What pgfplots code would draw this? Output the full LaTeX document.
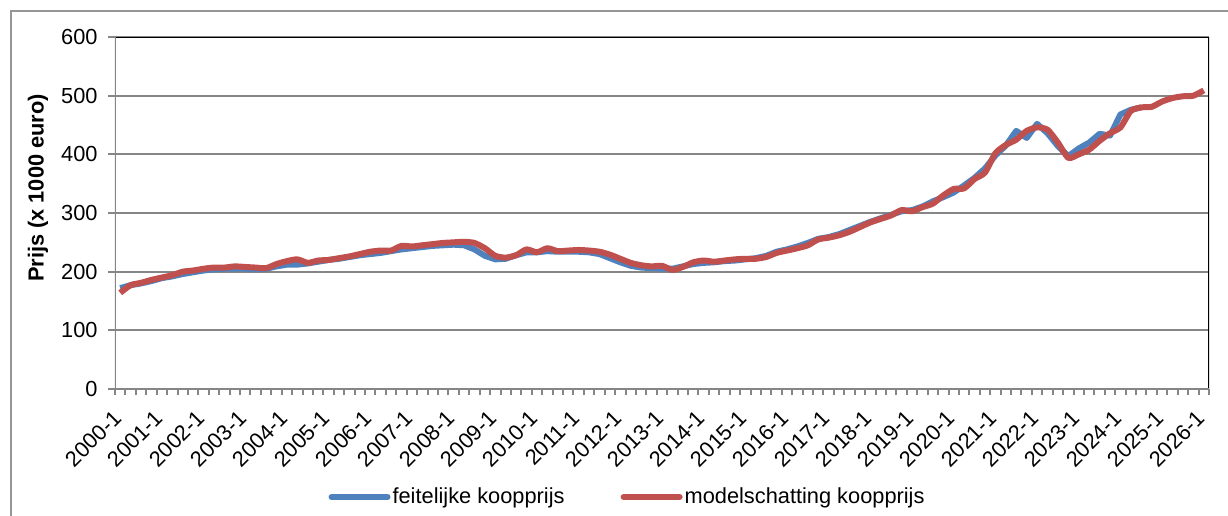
\documentclass[border=0pt]{standalone}
\usepackage{fontspec}
\setmainfont{Liberation Sans}
\usepackage{pgfplots}
\pgfplotsset{compat=1.18}
\usepackage{pgfplotstable}

\definecolor{feitblauw}{RGB}{79,129,189}
\definecolor{modelrood}{RGB}{192,80,77}
\definecolor{rastergrijs}{RGB}{134,134,134}
\definecolor{kadergrijs}{RGB}{150,150,150}

% kwartaal (0 = 2000-1) en prijs x 1000 euro
\pgfplotstableread{
i waarde
0 172
1 177
2 180
3 184
4 189
5 192
6 196
7 199
8 202
9 204
10 205
11 205
12 205
13 204
14 205
15 209
16 212
17 212
18 214
19 217
20 220
21 222
22 225
23 228
24 230
25 232
26 235
27 238
28 240
29 242
30 244
31 245
32 246
33 245
34 238
35 227
36 221
37 222
38 228
39 233
40 233
41 235
42 234
43 234
44 234
45 233
46 230
47 223
48 216
49 210
50 207
51 206
52 205
53 205
54 209
55 213
56 215
57 216
58 218
59 219
60 221
61 223
62 227
63 234
64 238
65 243
66 249
67 256
68 259
69 264
70 271
71 278
72 285
73 291
74 297
75 303
76 305
77 311
78 320
79 327
80 335
81 347
82 360
83 376
84 398
85 415
86 440
87 428
88 452
89 436
90 414
91 397
92 410
93 420
94 435
95 432
96 468
97 476
98 480
}\feitelijk

\pgfplotstableread{
i waarde
0 164
1 177
2 181
3 186
4 190
5 194
6 200
7 202
8 205
9 207
10 207
11 209
12 208
13 207
14 206
15 213
16 218
17 221
18 215
19 219
20 220
21 223
22 226
23 230
24 234
25 236
26 236
27 244
28 243
29 245
30 247
31 249
32 250
33 251
34 249
35 240
36 227
37 224
38 228
39 238
40 233
41 240
42 235
43 236
44 237
45 236
46 234
47 229
48 222
49 215
50 211
51 209
52 210
53 203
54 208
55 216
56 219
57 217
58 219
59 221
60 222
61 222
62 225
63 232
64 236
65 240
66 245
67 255
68 258
69 262
70 268
71 276
72 284
73 290
74 296
75 305
76 303
77 310
78 316
79 330
80 341
81 342
82 358
83 369
84 402
85 416
86 425
87 440
88 446
89 442
90 420
91 394
92 400
93 408
94 423
95 436
96 446
97 474
98 480
99 481
100 490
101 496
102 499
103 500
104 509
}\model

\begin{document}
\begin{tikzpicture}
\useasboundingbox (-57.5pt,-63pt) rectangle (556.5pt,194.5pt);
\draw[kadergrijs, line width=1pt] (-52pt,-80pt) -- (-52pt,189pt) -- (580pt,189pt);
\begin{axis}[
    at={(0,0)}, anchor=south west,
    scale only axis,
    width=547pt, height=176pt,
    font=\fontsize{10.9pt}{13pt}\selectfont,
    /pgf/number format/assume math mode=true,
    xmin=-0.5, xmax=104.5,
    ymin=0, ymax=600,
    ytick={0,100,...,600},
    xtick={0,4,...,104},
    xticklabels={2000-1,2001-1,2002-1,2003-1,2004-1,2005-1,2006-1,2007-1,2008-1,2009-1,2010-1,2011-1,2012-1,2013-1,2014-1,2015-1,2016-1,2017-1,2018-1,2019-1,2020-1,2021-1,2022-1,2023-1,2024-1,2025-1,2026-1},
    minor xtick={-0.5,0.5,...,104.5},
    xtick pos=left, ytick pos=left,
    tick align=outside,
    major tick length=3.5pt,
    minor tick length=3pt,
    tick style={rastergrijs, line width=1pt},
    major x tick style={draw=none},
    xticklabel style={xshift=-0.5pt, yshift=-8.5pt, rotate=45, anchor=east, inner sep=1pt},
    yticklabel style={inner sep=1pt, xshift=-4pt},
    ymajorgrids,
    major grid style={rastergrijs, line width=1pt},
    axis line style={draw=none},
    ylabel={\textbf{Prijs (x 1000 euro)}},
    ylabel style={at={(axis description cs:-0.0704,0.571)}, anchor=center},
    legend style={at={(axis description cs:0.4685,-0.307)}, anchor=center,
        draw=none, fill=none, legend columns=2,
        /tikz/every even column/.append style={column sep=27pt},
        nodes={inner sep=1pt}},
    legend image code/.code={\draw[#1, line cap=round] (0pt,0pt) -- (28pt,0pt);},
]
\addplot[feitblauw, line width=3pt, line join=round] table[x=i, y=waarde] {\feitelijk};
\addlegendentry{feitelijke koopprijs}
\addplot[modelrood, line width=3pt, line join=round, smooth, tension=0.4] table[x=i, y=waarde] {\model};
\addlegendentry{modelschatting koopprijs}
\draw[black, line width=1pt] (rel axis cs:0,1) -- (rel axis cs:1,1) -- (rel axis cs:1,0);
\draw[rastergrijs, line width=1pt] (rel axis cs:0,1) -- (rel axis cs:0,0) -- (rel axis cs:1,0);
\end{axis}
\end{tikzpicture}
\end{document}
